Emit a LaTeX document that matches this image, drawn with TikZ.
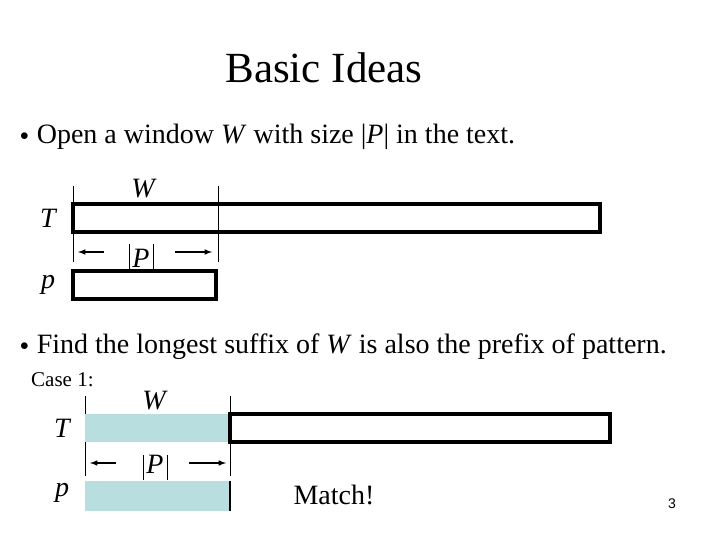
\documentclass[tikz,border=0pt]{standalone}
\usepackage{fontspec}
\setmainfont{Liberation Serif}
\newfontfamily\numfont{Liberation Sans}
\definecolor{lb}{RGB}{184,222,224}
\begin{document}
\begin{tikzpicture}[x=1pt,y=-1pt,
  bar/.style={draw=black,line width=3.5pt},
  tick/.style={draw=black,line width=0.8pt},
  ar/.style={-latex,line width=1.5pt},
  lbl/.style={inner sep=0pt,font=\fontsize{28}{32}\selectfont\itshape},
  txt/.style={inner sep=0pt,anchor=west,font=\fontsize{28}{32}\selectfont}]
\useasboundingbox (0,0) rectangle (720,540);
\node[inner sep=0pt,font=\fontsize{43}{48}\selectfont] (title) at (324,68) {Basic Ideas};
\node[txt] (b1) at (20,137) {\raisebox{3pt}{\fontsize{16}{16}\selectfont$\bullet$}\hspace{8pt}Open a window \textit{W} with size |\textit{P}| in the text.};
% top diagram
\draw[tick] (73,186) -- (73,262);
\draw[tick] (218,186) -- (218,262);
\draw[bar] (73,204) rectangle (600,232);
\node[lbl] (W1) at (143,189) {W};
\node[lbl] (T1) at (48,218) {T};
\node[lbl] (P1) at (141,258) {P};
\draw[tick] (129,244) -- (129,271);
\draw[tick] (153,244) -- (153,271);
\coordinate (la1) at (104,252); \coordinate (lb1) at (78,252);
\coordinate (ra1) at (175,252); \coordinate (rb1) at (212,252);
\draw[ar] (la1) -- (lb1);
\draw[ar] (ra1) -- (rb1);
\draw[bar] (73,271) rectangle (216,299);
\node[lbl] (p1) at (48,285) {p};
\node[txt] (b2) at (20,347) {\raisebox{3pt}{\fontsize{16}{16}\selectfont$\bullet$}\hspace{8pt}Find the longest suffix of \textit{W} is also the prefix of pattern.};
\node[txt,font=\fontsize{21}{24}\selectfont] (case) at (31,380) {Case 1:};
% bottom diagram
\draw[tick] (85,396) -- (85,476);
\draw[tick] (230,396) -- (230,476);
\fill[lb] (85,414) rectangle (230,442);
\draw[bar] (230,414) rectangle (610,442);
\node[lbl] (W2) at (154,401) {W};
\node[lbl] (T2) at (62,428) {T};
\node[lbl] (P2) at (155,464) {P};
\draw[tick] (143,455) -- (143,480);
\draw[tick] (167,455) -- (167,480);
\coordinate (la2) at (116,463); \coordinate (lb2) at (90,463);
\coordinate (ra2) at (189,463); \coordinate (rb2) at (226,463);
\draw[ar] (la2) -- (lb2);
\draw[ar] (ra2) -- (rb2);
\fill[lb] (85,481) rectangle (230,511);
\draw[line width=2.5pt] (230,481) -- (230,511);
\node[lbl] (p2) at (62,493) {p};
\node[inner sep=0pt,font=\fontsize{28}{32}\selectfont] (match) at (334,495) {Match!};
\node[inner sep=0pt,font=\numfont\fontsize{14}{16}\selectfont] (num) at (672,504) {3};
\end{tikzpicture}
\end{document}
